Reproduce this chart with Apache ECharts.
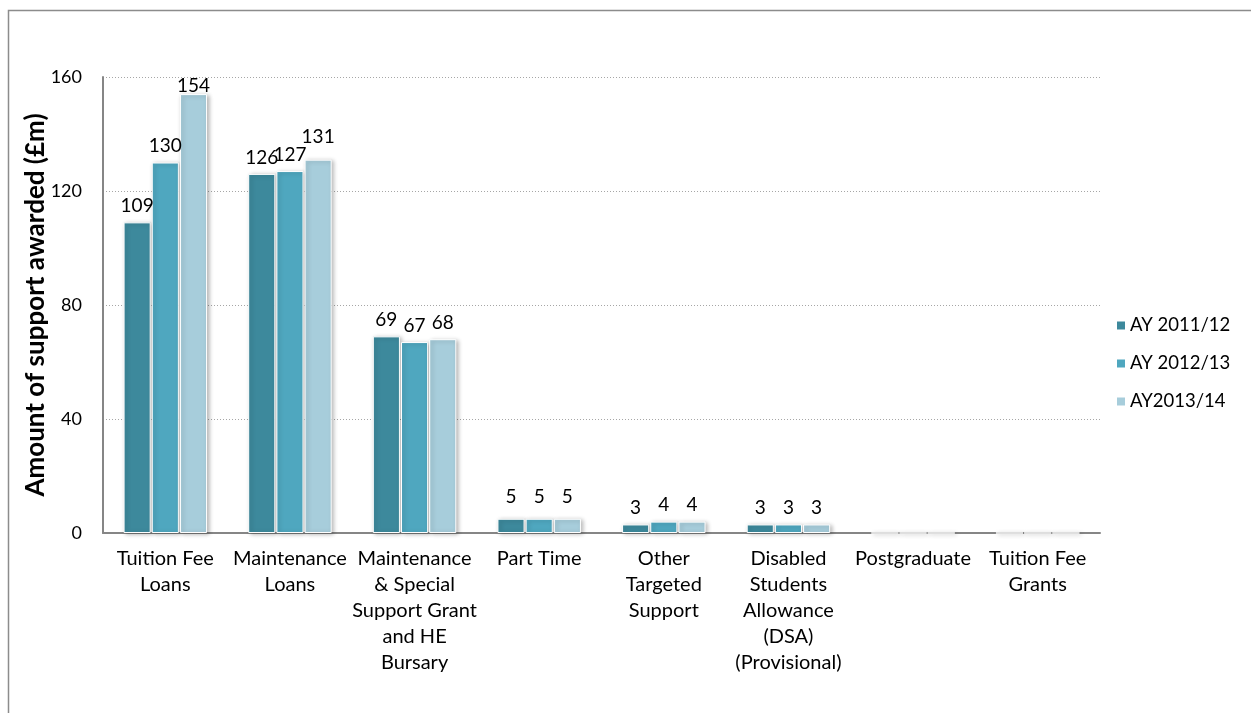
<!DOCTYPE html>
<html>
<head>
<meta charset="utf-8">
<script src="https://cdn.jsdelivr.net/npm/echarts@6/dist/echarts.min.js"></script>
<style>
  html, body { margin: 0; padding: 0; background: #fff; }
  #chart { width: 1251px; height: 713px; }
</style>
</head>
<body>
<div id="chart"></div>
<script>
// Student support awarded, by type (£m)
const categories = [
  'Tuition Fee\nLoans',
  'Maintenance\nLoans',
  'Maintenance\n& Special\nSupport Grant\nand HE\nBursary',
  'Part Time',
  'Other\nTargeted\nSupport',
  'Disabled\nStudents\nAllowance\n(DSA)\n(Provisional)',
  'Postgraduate',
  'Tuition Fee\nGrants'
];
const seriesNames = ['AY 2011/12', 'AY 2012/13', 'AY2013/14'];
const ay2011 = [109, 126, 69, 5, 3, 3, 0, 0];
const ay2012 = [130, 127, 67, 5, 4, 3, 0, 0];
const ay2013 = [154, 131, 68, 5, 4, 3, 0, 0];
const yTicks = [0, 40, 80, 120, 160];

const colors = ['#3d899c', '#4fa7bf', '#a7cddb'];
const FONT = 'Lato, "Open Sans", sans-serif';

// label gap above a bar; a few labels sit a little higher or lower to stay clear
function labelDistance(seriesIdx, catIdx) {
  if (seriesIdx === 2 && catIdx === 0) return -1;   // keeps the tallest label inside the plot
  if (seriesIdx === 2 && catIdx === 1) return 13;
  if (catIdx === 3) return 12;
  return 7;
}

function barSeries(idx, data) {
  return {
    name: seriesNames[idx],
    type: 'bar',
    data: data.map((v, i) => ({
      value: v,
      label: { distance: labelDistance(idx, i) }
    })),
    barGap: '4%',
    barCategoryGap: '33%',
    itemStyle: {
      color: colors[idx],
      borderColor: '#ffffff',
      borderWidth: 1,
      shadowColor: 'rgba(0,0,0,0.28)',
      shadowBlur: 4,
      shadowOffsetX: 2,
      shadowOffsetY: 1
    },
    label: {
      show: true,
      position: 'top',
      fontFamily: FONT,
      fontSize: 19,
      color: '#000',
      formatter: p => (p.value > 0 ? String(p.value) : '')
    }
  };
}

const chart = echarts.init(document.getElementById('chart'), null, { renderer: 'canvas' });
chart.setOption({
  animation: false,
  backgroundColor: '#ffffff',
  textStyle: { fontFamily: FONT },
  graphic: [{
    type: 'rect',
    shape: { x: 8.5, y: 10.5, width: 1270, height: 730 },
    style: { fill: 'none', stroke: '#8c8c8c', lineWidth: 1.5 },
    silent: true,
    z: -10
  }],
  grid: { left: 103, right: 151, top: 77, bottom: 180, containLabel: false },
  legend: {
    orient: 'vertical',
    left: 1110,
    top: 311,
    itemWidth: 10,
    itemHeight: 10,
    itemGap: 19,
    icon: 'rect',
    data: seriesNames,
    textStyle: { fontFamily: FONT, fontSize: 18.5, color: '#000', padding: [0, 0, 0, -1] }
  },
  xAxis: {
    type: 'category',
    data: categories,
    axisLine: { lineStyle: { color: '#868686', width: 2 } },
    axisTick: { show: false },
    axisLabel: {
      interval: 0,
      margin: 13,
      fontFamily: FONT,
      fontSize: 20,
      lineHeight: 26,
      color: '#000',
      verticalAlign: 'top'
    }
  },
  yAxis: {
    type: 'value',
    min: yTicks[0],
    max: yTicks[yTicks.length - 1],
    interval: 40,
    name: 'Amount of support awarded (£m)',
    nameLocation: 'middle',
    nameGap: 54,
    nameMoveOverlap: false,
    nameRotate: 90,
    nameTextStyle: { fontFamily: FONT, fontSize: 26, fontWeight: 'bold', color: '#000' },
    axisLine: { show: true, lineStyle: { color: '#868686', width: 2 } },
    axisTick: { show: false },
    axisLabel: {
      margin: 21,
      fontFamily: FONT,
      fontSize: 18,
      color: '#000',
      formatter: v => (yTicks.includes(v) ? String(v) : '')
    },
    splitLine: { show: true, lineStyle: { color: '#a6a6a6', type: [1, 2], width: 1 } }
  },
  series: [
    barSeries(0, ay2011),
    barSeries(1, ay2012),
    barSeries(2, ay2013)
  ]
});
</script>
</body>
</html>
